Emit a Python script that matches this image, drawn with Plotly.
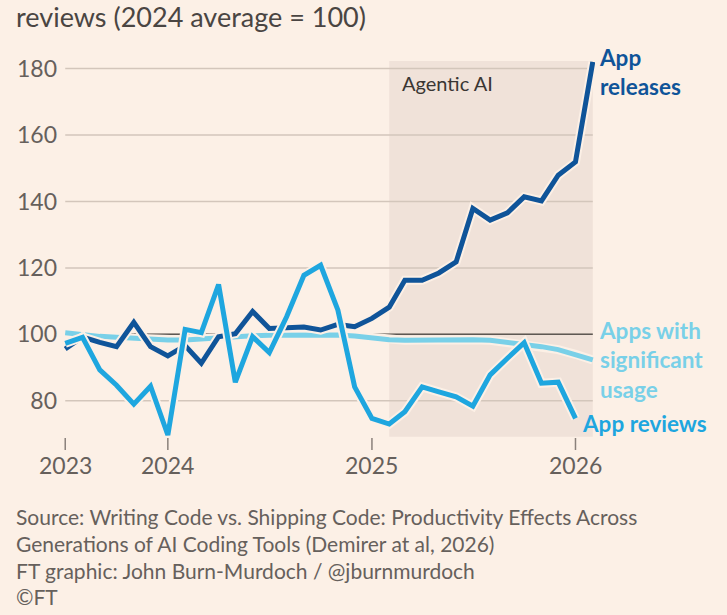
import pandas as pd
import plotly.graph_objects as go

# ---------------- data ----------------
months = pd.date_range("2023-07-01", "2026-02-01", freq="MS")

app_releases = [95.6, 99.2, 97.6, 96.3, 103.6, 96.3, 93.5, 96.6, 91.3, 99.3, 100.2, 106.9,
                101.8, 101.9, 102.2, 101.3, 103.0, 102.3, 104.8, 108.2, 116.3, 116.3, 118.5,
                121.8, 137.9, 134.4, 136.6, 141.4, 140.2, 147.9, 151.9, 182.0]
app_reviews = [97.3, 99.1, 89.3, 84.7, 79.0, 84.4, 69.7, 101.5, 100.5, 115.0, 85.6, 99.3,
               94.5, 105.3, 117.8, 120.8, 107.3, 84.2, 74.7, 73.0, 76.7, 84.2, 82.7, 81.2,
               78.4, 87.8, 92.8, 97.5, 85.3, 85.6, 74.7, None]
apps_usage = [100.5, 99.9, 99.4, 99.1, 98.8, 98.5, 98.3, 98.3, 98.7, 99.1, 99.4, 99.6,
              99.7, 99.8, 99.9, 99.9, 99.8, 99.5, 98.9, 98.4, 98.2, 98.3, 98.5, 98.5,
              98.4, 98.2, 97.6, 96.9, 96.3, 95.4, 94.0, 92.3]

y_ticks = [80, 100, 120, 140, 160, 180]
x_tick_dates = ["2023-07-01", "2024-01-01", "2025-01-01", "2026-01-01"]
x_tick_labels = ["2023", "2024", "2025", "2026"]

shade_start = "2025-02-01"
shade_end = "2026-02-01"
shade_label = "Agentic AI"

label_releases = "App<br>releases"
label_usage = "Apps with<br>significant<br>usage"
label_reviews = "App reviews"

title_text = "reviews (2024 average = 100)"
source_lines = [
    "Source: Writing Code vs. Shipping Code: Productivity Effects Across",
    "Generations of AI Coding Tools (Demirer at al, 2026)",
    "FT graphic: John Burn-Murdoch / @jburnmurdoch",
    "©FT",
]

# ---------------- style ----------------
BG = "#fcf0e6"
SHADE = "#f0e2d9"
GRID = "#d3c6bb"
BASE = "#5e5853"
TXT = "#66605c"
DARK = "#3a3633"
TITLE = "#4a4542"
C_REL = "#0f5499"
C_REV = "#1ea6df"
C_USE = "#79d0e8"
FONT = "Lato"

W, H = 727, 615
L, PW = 62.8, 532.4
T, PH = 51.7, 392.3
B = T + PH
PADX = 3  # annotation inner padding


def xp(px):
    return (px - PADX - L) / PW


def yp(py):
    return (B - py) / PH


fig = go.Figure()

for vals, col in [(apps_usage, C_USE), (app_releases, C_REL), (app_reviews, C_REV)]:
    fig.add_trace(go.Scatter(x=months, y=vals, mode="lines",
                             line=dict(color=BG, width=9), hoverinfo="skip",
                             showlegend=False))
    fig.add_trace(go.Scatter(x=months, y=vals, mode="lines",
                             line=dict(color=col, width=5), showlegend=False))

shapes = [dict(type="rect", xref="x", yref="y", x0=shade_start, x1=shade_end,
               y0=69.2, y1=182.3, fillcolor=SHADE, line=dict(width=0), layer="below")]
for v in y_ticks:
    shapes.append(dict(type="line", xref="x", yref="y", x0=months[0], x1=months[-1],
                       y0=v, y1=v, line=dict(color=GRID, width=1.5), layer="below"))
shapes.append(dict(type="line", xref="x", yref="y", x0=months[0], x1=months[-1],
                   y0=100, y1=100, line=dict(color=BASE, width=1.5), layer="below"))
for d in x_tick_dates:
    shapes.append(dict(type="line", xref="x", yref="paper", x0=d, x1=d,
                       y0=yp(438), y1=yp(450), line=dict(color="#8a817b", width=1.5)))

ann = []
for d, lab in zip(x_tick_dates, x_tick_labels):
    ann.append(dict(x=d, xref="x", y=yp(465), yref="paper", text=lab, showarrow=False,
                    xanchor="center", yanchor="middle",
                    font=dict(family=FONT, size=23, color=TXT)))

ann.append(dict(x=xp(403), xref="paper", y=yp(83), yref="paper", text=shade_label,
                showarrow=False, xanchor="left", yanchor="middle",
                font=dict(family=FONT, size=20, color=DARK)))

ann.append(dict(x=xp(17), xref="paper", y=yp(16), yref="paper", text=title_text,
                showarrow=False, xanchor="left", yanchor="middle",
                font=dict(family=FONT, size=27, color=TITLE)))

for txt, cy, col, x0 in [(label_releases, 72, C_REL, 600),
                         (label_usage, 360, C_USE, 600),
                         (label_reviews, 423, C_REV, 583)]:
    ann.append(dict(x=xp(x0), xref="paper", y=yp(cy), yref="paper", text=txt,
                    showarrow=False, xanchor="left", yanchor="middle", align="left",
                    font=dict(family=FONT, size=22.5, color=col, weight="bold")))

for i, line in enumerate(source_lines):
    ann.append(dict(x=xp(17), xref="paper", y=yp(517 + 26.7 * i), yref="paper", text=line,
                    showarrow=False, xanchor="left", yanchor="middle",
                    font=dict(family=FONT, size=21, color=TXT)))

fig.update_layout(
    width=W, height=H,
    margin=dict(l=L, r=W - L - PW, t=T, b=H - B, pad=0),
    paper_bgcolor=BG, plot_bgcolor=BG,
    shapes=shapes, annotations=ann,
    xaxis=dict(type="date", range=["2023-06-27", "2026-02-05"], showgrid=False,
               zeroline=False, showticklabels=False, ticks="", showline=False),
    yaxis=dict(range=[67, 185], tickvals=y_ticks, showgrid=False, zeroline=False,
               ticks="", showline=False, ticklabelstandoff=5,
               tickfont=dict(family=FONT, size=23, color=TXT)),
)

fig.write_html("out.html")
